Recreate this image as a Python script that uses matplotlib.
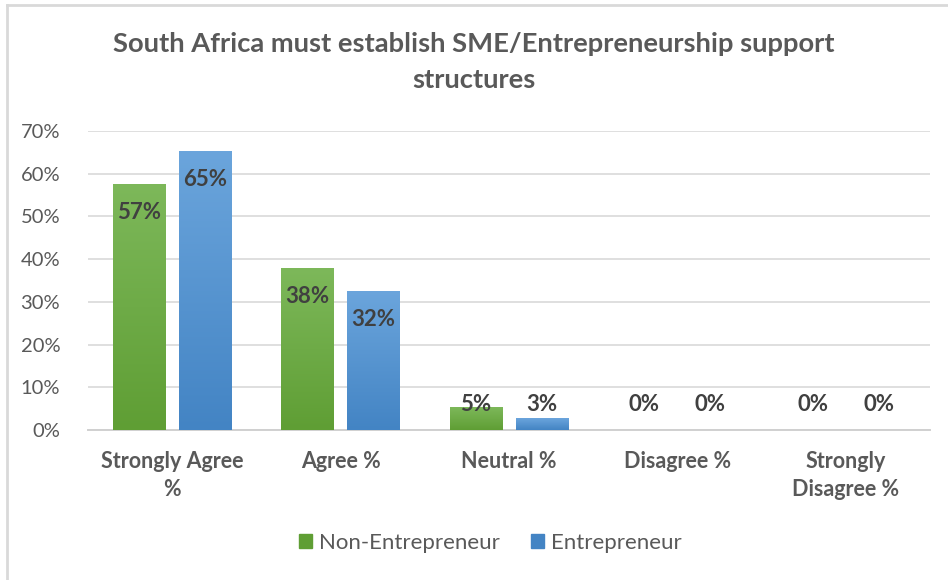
import matplotlib
matplotlib.use("Agg")
import matplotlib.pyplot as plt
import numpy as np
from matplotlib.lines import Line2D
from matplotlib.colors import LinearSegmentedColormap

# survey responses, percent of each group
categories = ["Strongly Agree\n%", "Agree %", "Neutral %", "Disagree %", "Strongly\nDisagree %"]
non_entrepreneur = [57.4, 37.7, 5.2, 0.0, 0.0]
entrepreneur = [65.1, 32.4, 2.6, 0.0, 0.0]
series_names = ["Non-Entrepreneur", "Entrepreneur"]
yticks = [0, 10, 20, 30, 40, 50, 60, 70]

plt.rcParams["font.family"] = ["Lato", "DejaVu Sans"]

green_top, green_bot = "#7db85a", "#5f9e34"
blue_top, blue_bot = "#6ba5dc", "#4384c4"
grey_text = "#595959"

fig = plt.figure(figsize=(9.48, 5.8), dpi=100)
ax = fig.add_axes([0.0928, 0.2586, 0.888, 0.5155])

x = np.arange(len(categories))
w = 0.31
off = 0.196


def gradient_bars(xpos, vals, c_top, c_bot, label):
    bars = ax.bar(xpos, vals, w, color=c_bot, label=label, zorder=2)
    cmap = LinearSegmentedColormap.from_list("g", [c_bot, c_top])
    grad = np.linspace(0, 1, 256).reshape(-1, 1)
    for b in bars:
        if b.get_height() <= 0:
            continue
        bx, bw, bh = b.get_x(), b.get_width(), b.get_height()
        ax.imshow(grad, cmap=cmap, origin="lower", aspect="auto",
                  extent=[bx, bx + bw, 0, bh], zorder=3)
    return bars


gradient_bars(x - off, non_entrepreneur, green_top, green_bot, series_names[0])
gradient_bars(x + off, entrepreneur, blue_top, blue_bot, series_names[1])

# value labels: inside the top of tall bars, floating just above the axis for short ones
for xs, vals in ((x - off, non_entrepreneur), (x + off, entrepreneur)):
    for xi, v in zip(xs, vals):
        ypos = max(v - 6.5, 5.9)
        ax.text(xi, ypos, f"{v:.0f}%", ha="center", va="center",
                fontsize=16, fontweight="bold", color="#404040", zorder=5)

ax.set_xlim(-0.5, len(categories) - 0.5)
ax.set_ylim(0, 70)
ax.set_yticks(yticks)
ax.set_yticklabels([f"{t}%" for t in yticks], fontsize=14.5, color=grey_text)
ax.set_xticks(x)
ax.set_xticklabels(categories, fontsize=15.5, fontweight="bold", color=grey_text,
                   linespacing=1.4)
ax.tick_params(axis="both", length=0)
ax.tick_params(axis="x", pad=15)
ax.tick_params(axis="y", pad=20)
ax.grid(axis="y", color="#d9d9d9", linewidth=1.2, zorder=0)
ax.set_axisbelow(True)
for s in ("top", "right", "left"):
    ax.spines[s].set_visible(False)
ax.spines["bottom"].set_color("#d0d0d0")
ax.spines["bottom"].set_linewidth(1.4)

fig.suptitle("South Africa must establish SME/Entrepreneurship support\nstructures",
             x=0.5, y=0.945, fontsize=19.7, fontweight="bold", color=grey_text,
             linespacing=1.6)

handles = [plt.Rectangle((0, 0), 1, 1, color=green_bot),
           plt.Rectangle((0, 0), 1, 1, color=blue_bot)]
fig.legend(handles, series_names, loc="center", bbox_to_anchor=(0.517, 0.064),
           ncol=2, frameon=False, fontsize=16, handlelength=0.6, handleheight=0.6,
           handletextpad=0.3, columnspacing=1.4, labelcolor=grey_text)

# chart frame edges
fig.add_artist(Line2D([0.0075, 0.0075], [0, 0.992], transform=fig.transFigure,
                      color="#d9d9d9", linewidth=2))
fig.add_artist(Line2D([0.0075, 1.0], [0.992, 0.992], transform=fig.transFigure,
                      color="#d9d9d9", linewidth=2))

fig.savefig("out.png", dpi=100)
